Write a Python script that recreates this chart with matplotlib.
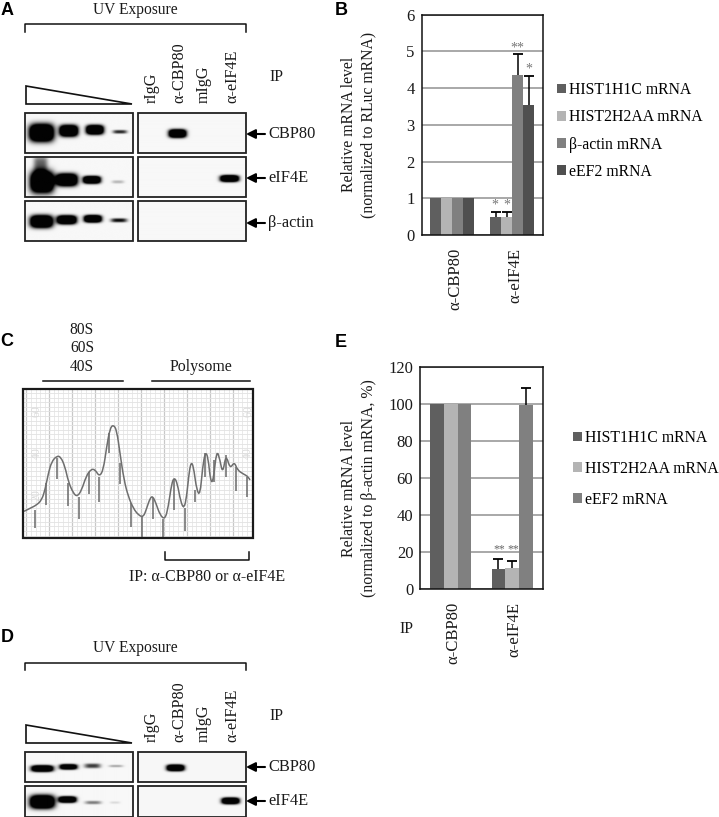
import matplotlib
matplotlib.use('Agg')
import matplotlib.pyplot as plt
import matplotlib.transforms as mtrans
from matplotlib.patches import PathPatch, Polygon, Rectangle
from matplotlib.path import Path
import numpy as np

plt.rcParams['font.family'] = ['Liberation Serif', 'DejaVu Serif']
plt.rcParams['font.size'] = 11

W, H = 719, 817

# panel B
b_groups = ['α-CBP80', 'α-eIF4E']
b_series = ['HIST1H1C mRNA', 'HIST2H2AA mRNA', 'β-actin mRNA', 'eEF2 mRNA']
b_cbp80 = [1, 1, 1, 1]
b_eif4e = [0.5, 0.5, 4.37, 3.53]
b_err = [0.12, 0.14, 0.55, 0.8]
b_colors = ['#5f5f5f', '#b4b4b4', '#808080', '#4f4f4f']

# panel E
e_groups = ['α-CBP80', 'α-eIF4E']
e_series = ['HIST1H1C mRNA', 'HIST2H2AA mRNA', 'eEF2 mRNA']
e_cbp80 = [100, 100, 100]
e_eif4e = [10.8, 11.3, 99.3]
e_err = [5.3, 3.6, 9.7]
e_colors = ['#5f5f5f', '#b4b4b4', '#808080']

lanes = ['rIgG', 'α-CBP80', 'mIgG', 'α-eIF4E']

# panel C, sedimentation trace and fraction ticks, in reference pixels x3
trace_x = [72, 90, 110, 125, 135, 145, 155, 170, 182, 195, 205, 220, 232, 245, 258, 272, 285, 298,
           310, 320, 330, 340, 350, 360, 372, 385, 400, 415, 430, 440, 450, 458, 468, 480, 495, 505,
           515, 523, 532, 542, 552, 560, 568, 575, 582, 590, 600, 608, 616, 624, 632, 640, 650, 660,
           668, 678, 690, 703, 712, 730, 745, 755]
trace_y = [574, 565, 555, 540, 510, 460, 425, 408, 410, 440, 485, 520, 530, 510, 470, 448, 448, 470,
           450, 380, 325, 314, 330, 400, 480, 530, 565, 585, 592, 565, 535, 528, 550, 585, 599, 560,
           490, 472, 490, 545, 567, 530, 450, 424, 450, 510, 527, 440, 396, 410, 487, 482, 388, 420,
           462, 402, 447, 425, 450, 462, 470, 490]
frac_x = [106, 138, 171, 205, 236, 267, 298, 327, 361, 393, 426, 458, 489, 521, 554, 584, 615, 643,
          677, 707, 741]
frac_top = [570, 490, 415, 490, 530, 455, 470, 340, 430, 550, 590, 535, 597, 480, 565, 510, 400, 420,
            405, 440, 470]
frac_bot = [625, 555, 478, 558, 597, 522, 546, 400, 493, 620, 650, 598, 650, 570, 632, 545, 470, 487,
            472, 513, 532]

# blot bands: centre x, centre y, half width, half height, strength (reference pixels)
a_row1_left = [(41, 133, 12, 8.5, 1), (68, 131, 9, 5.5, 1), (94, 130, 8.5, 4.5, 1), (119, 132, 7, 1.8, 0.45)]
a_row1_right = [(177, 133.7, 8.5, 4, 1)]
a_row2_left = [(41.5, 182, 11.5, 10.5, 1), (40, 165, 7, 9, 0.35), (66, 180, 10.5, 6, 1), (91, 180, 8.5, 3.6, 1), (117, 182, 6, 1.6, 0.18)]
a_row2_right = [(229, 178.7, 9, 3.2, 1)]
a_row3_left = [(41, 221.7, 11, 6, 1), (66, 220, 9.5, 4.2, 1), (92, 219, 8.5, 3.5, 1), (118, 220.5, 8, 2, 0.5)]
d_row1_left = [(41.7, 769, 10.5, 3.1, 1), (67.7, 767.3, 8.5, 2.6, 0.9), (91.7, 766.3, 8, 2.3, 0.42), (115, 766.5, 7, 1.2, 0.22)]
d_row1_right = [(175, 768.3, 8.5, 3.1, 1)]
d_row2_left = [(41.7, 802.3, 12, 6.5, 1), (66.7, 800, 8.5, 3, 1), (92.3, 803, 8, 1.7, 0.3), (114, 803, 5, 1.2, 0.1)]
d_row2_right = [(230, 801.3, 8.5, 3.1, 1)]


def px_axes(x0, y0, x1, y1):
    return fig.add_axes([x0 / W, 1 - y1 / H, (x1 - x0) / W, (y1 - y0) / H])


def bar_panel(ax, groups, series, first, second, err, colors, bar_w, ymax, step):
    n = len(series)
    for i in range(n):
        off = (i - (n - 1) / 2) * bar_w
        ax.bar([0.5 + off, 1.5 + off], [first[i], second[i]], bar_w, color=colors[i],
               label=series[i], zorder=3)
        top = second[i] + err[i]
        ax.vlines(1.5 + off, second[i], top, color='black', lw=1.1, zorder=4)
        ax.plot(1.5 + off, top, '_', color='black', ms=6.5, mew=1.3, zorder=4)
    ax.set_xlim(0, 2)
    ax.set_ylim(0, ymax)
    ax.set_yticks(np.arange(0, ymax + step, step))
    ax.set_xticks([0.5, 1.5])
    ax.set_xticklabels(groups, rotation=90)
    ax.tick_params(axis='both', length=0, colors='#1a1a1a')
    ax.tick_params(axis='y', pad=5, labelsize=12)
    ax.tick_params(axis='x', pad=9.5, labelsize=12)
    ax.grid(axis='y', color='#9a9a9a', lw=1.2, zorder=0)
    ax.set_axisbelow(True)
    for s in ax.spines.values():
        s.set_linewidth(1.1)
        s.set_color('#111111')
        s.set_zorder(5)


def draw_blot(ov, x0, y0, x1, y1, bands):
    xx, yy = np.meshgrid(np.arange(x0, x1, 0.5), np.arange(y0, y1, 0.5))
    dark = np.zeros_like(xx, dtype=float)
    for cx, cy, hw, hh, s in bands:
        dist = np.abs((xx - cx) / hw) ** 3.5 + np.abs((yy - cy) / hh) ** 2.8
        dark += 2.4 * s ** 1.3 * np.exp(-dist)
    img = 0.97 - 0.96 * np.clip(dark, 0, 1)
    ov.imshow(img, extent=(x0, x1, y1, y0), cmap='gray', vmin=0, vmax=1, aspect='auto',
              interpolation='bilinear', zorder=1)
    ov.add_patch(Rectangle((x0, y0), x1 - x0, y1 - y0, fill=False, ec='#222222', lw=1.3, zorder=2))


def blot_figure(ov, top, wedge_top, wedge_bot, lane_bot, ip_y, title_y, names, arrow_y):
    ov.text(135, title_y, 'UV Exposure', ha='center', va='center', fontsize=11.2, color='#1a1a1a')
    ov.plot([24.7, 24.7, 246, 246], [top + 7.7, top, top, top + 7.7], color='#111111', lw=1.1)
    ov.add_patch(Polygon([(25.5, wedge_top), (25.5, wedge_bot), (132, wedge_bot)], closed=True,
                         fc='white', ec='#111111', lw=1.2))
    for x, name in zip([152, 179, 204, 232], lanes):
        ov.text(x, lane_bot, name, rotation=90, ha='center', va='bottom', fontsize=11.6, color='#1a1a1a')
    ov.text(276, ip_y, 'IP', ha='center', va='center', fontsize=11.5, color='#1a1a1a')
    for y, name in zip(arrow_y, names):
        ov.annotate('', xy=(246, y), xytext=(265, y),
                    arrowprops=dict(arrowstyle='-|>,head_length=0.5,head_width=0.25', color='black',
                                    lw=1.5, shrinkA=0, shrinkB=0))
        ov.text(268, y, name, ha='left', va='center', fontsize=11.8, color='#1a1a1a')


fig = plt.figure(figsize=(W / 100, H / 100), dpi=100)
fig.patch.set_facecolor('white')

# bar charts
ax_b = px_axes(421.7, 14.7, 542.7, 235)
bar_panel(ax_b, b_groups, b_series, b_cbp80, b_eif4e, b_err, b_colors, 0.182, 6, 1)
ax_b.set_ylabel('Relative mRNA level\n(normalized to RLuc mRNA)', fontsize=11.3, linespacing=1.3,
                va='center', color='#1a1a1a')
ax_b.yaxis.set_label_coords((359 - 421.7) / 121, 0.5)
ax_b.legend(loc='upper left', bbox_to_anchor=((557 - 421.7) / 121, (235 - 82) / 220.3), frameon=False,
            fontsize=11.3, borderpad=0, borderaxespad=0, handlelength=0.58, handleheight=0.58,
            handletextpad=0.2, labelspacing=0.72)

ax_e = px_axes(420.3, 367.3, 542.7, 588.7)
bar_panel(ax_e, e_groups, e_series, e_cbp80, e_eif4e, e_err, e_colors, 0.224, 120, 20)
ax_e.set_ylabel('Relative mRNA level\n(normalized to β-actin mRNA, %)', fontsize=11.4, linespacing=1.3,
                va='center', color='#1a1a1a')
ax_e.yaxis.set_label_coords((359 - 420.3) / 122.4, 0.455)
ax_e.legend(loc='upper left', bbox_to_anchor=((573 - 420.3) / 122.4, (588.7 - 430) / 221.4), frameon=False,
            fontsize=11.3, borderpad=0, borderaxespad=0, handlelength=0.58, handleheight=0.58,
            handletextpad=0.2, labelspacing=0.94)

# rough shift of the rotated group labels
for lab in ax_b.get_xticklabels():
    lab.set_transform(lab.get_transform() + mtrans.ScaledTranslation(3 / 100, 0, fig.dpi_scale_trans))
for lab in ax_e.get_xticklabels():
    lab.set_transform(lab.get_transform() + mtrans.ScaledTranslation(2 / 100, 0, fig.dpi_scale_trans))

# overlay in reference pixels for everything else
ov = fig.add_axes([0, 0, 1, 1], zorder=10)
ov.patch.set_visible(False)
ov.axis('off')

blot_figure(ov, 24, 86, 104, 102.5, 77, 9.5, ['CBP80', 'eIF4E', 'β-actin'], [134, 178, 223])
blot_figure(ov, 662.7, 725, 743, 742.5, 716, 648, ['CBP80', 'eIF4E'], [767, 801])

for (y0, y1), left, right in [((112.7, 153), a_row1_left, a_row1_right),
                              ((156.7, 197), a_row2_left, a_row2_right),
                              ((200.7, 241), a_row3_left, []),
                              ((751.7, 782.3), d_row1_left, d_row1_right),
                              ((785.7, 816.5), d_row2_left, d_row2_right)]:
    draw_blot(ov, 24.7, y0, 133, y1, left)
    draw_blot(ov, 137.7, y0, 245.7, y1, right)

# panel C
cx0, cx1, cy0, cy1 = 23.3, 253, 389, 537.7
for x in np.arange(cx0 + 3, cx1, 4.6):
    major = round((x - cx0 - 3) / 4.6) % 5 == 0
    ov.plot([x, x], [cy0, cy1], color='#c8c8c8' if major else '#e6e6e6', lw=0.9 if major else 0.6, zorder=1)
for y in np.arange(cy0 + 4, cy1, 4.6):
    ov.plot([cx0, cx1], [y, y], color='#e2e2e2', lw=0.6, zorder=1)
for x, y, s in [(37, 411, '60'), (37, 453, '40'), (37, 495, '20'), (248, 411, '60'), (248, 453, '40')]:
    ov.text(x, y, s, rotation=90, ha='center', va='center', fontsize=8.5, color='#dadada', zorder=1)
ov.vlines(np.array(frac_x) / 3, 320 + np.array(frac_top) / 3, 320 + np.array(frac_bot) / 3,
          color='#6a6a6a', lw=1.1, zorder=2)
# quadratic curves through the midpoints so the trace is smooth like a chart recorder
tr = np.column_stack([np.array(trace_x) / 3, 320 + np.array(trace_y) / 3])
mids = (tr[:-1] + tr[1:]) / 2
verts = [tr[0]]
codes = [Path.MOVETO]
for c, m in zip(tr[1:-1], mids[1:]):
    verts += [c, m]
    codes += [Path.CURVE3, Path.CURVE3]
ov.add_patch(PathPatch(Path(verts, codes), fill=False, ec='#6e6e6e', lw=1.1, zorder=3))
ov.add_patch(Rectangle((cx0, cy0), cx1 - cx0, cy1 - cy0, fill=False, ec='#1a1a1a', lw=1.6, zorder=4))
for y, s in [(330, '80S'), (348, '60S'), (366.7, '40S')]:
    ov.text(82, y, s, ha='center', va='center', fontsize=11.2, color='#1a1a1a')
ov.text(200.7, 366.7, 'Polysome', ha='center', va='center', fontsize=11.4, color='#1a1a1a')
ov.plot([42.7, 123.3], [381, 381], color='#111111', lw=1.1)
ov.plot([151.7, 250], [381, 381], color='#111111', lw=1.1)
ov.plot([165, 165, 249, 249], [551.7, 560, 560, 551.7], color='#111111', lw=1.1)
ov.text(206.7, 576.7, 'IP: α-CBP80 or α-eIF4E', ha='center', va='center', fontsize=11.5, color='#1a1a1a')

# significance marks
for x, y, s in [(495, 205, '*'), (506.7, 205, '*'), (517.7, 48, '**'), (529, 69, '*')]:
    ov.text(x, y, s, ha='center', va='center', fontsize=10, color='#777777')
for x, s in [(499, '**'), (513, '**')]:
    ov.text(x, 549, s, ha='center', va='center', fontsize=8.5, color='#666666')

ov.text(406, 629, 'IP', ha='center', va='center', fontsize=11.5, color='#1a1a1a')

for x, y, s in [(7, 10, 'A'), (341, 10, 'B'), (7, 341, 'C'), (341, 342, 'E'), (7, 638, 'D')]:
    ov.text(x, y, s, ha='center', va='center', fontsize=13, fontweight='bold', family='Liberation Sans')

ov.set_xlim(0, W)
ov.set_ylim(H, 0)

fig.savefig('out.png', dpi=100)
